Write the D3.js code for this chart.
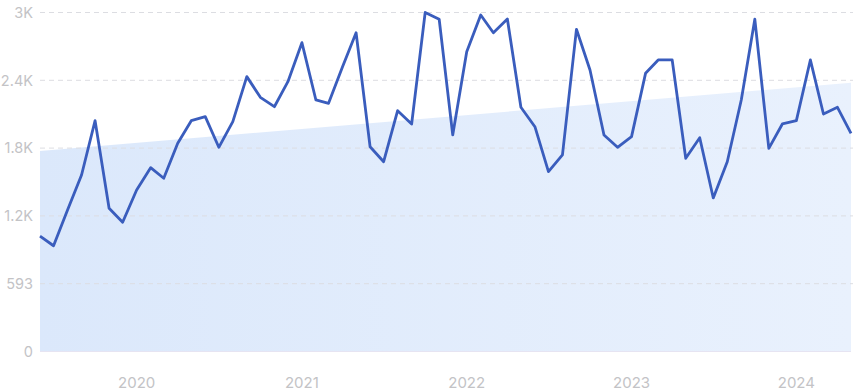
<!DOCTYPE html>
<html><head><meta charset="utf-8">
<script src="https://cdn.jsdelivr.net/npm/d3@7"></script>
<style>html,body{margin:0;padding:0;background:#fff;}svg{display:block;}</style>
</head><body>
<svg id="c" width="856" height="392"></svg>
<script>
const startMonth = "2019-06";
const values = [1010,925,1238,1544,2019,1253,1130,1413,1608,1515,1821,2019,2054,1786,2010,2404,2223,2141,2360,2701,2200,2171,2491,2788,1791,1660,2106,1990,2965,2906,1894,2622,2943,2788,2908,2136,1966,1573,1719,2818,2462,1894,1786,1879,2433,2550,2550,1690,1870,1343,1660,2200,2906,1777,1990,2019,2550,2077,2136,1908];
const trendValues = [1753, 2351];
const yTickValues = [0, 593, 1186, 1779, 2372, 2965];
const yTickLabels = ["0", "593", "1.2K", "1.8K", "2.4K", "3K"];
const xTickLabels = ["2020", "2021", "2022", "2023", "2024"];

const parse = d3.timeParse("%Y-%m");
const d0 = parse(startMonth);
const dates = values.map((v, i) => d3.timeMonth.offset(d0, i));
const data = values.map((v, i) => ({date: dates[i], value: v}));

const svg = d3.select("#c");
const x = d3.scaleTime().domain([dates[0], dates[dates.length - 1]]).range([40, 851]);
const y = d3.scaleLinear().domain([0, 2965]).range([351.5, 12.5]);

const defs = svg.append("defs");
const g = defs.append("linearGradient").attr("id", "tg").attr("x1", "0").attr("y1", "0").attr("x2", "1").attr("y2", "0");
g.append("stop").attr("offset", "0%").attr("stop-color", "#dbe8fb");
g.append("stop").attr("offset", "100%").attr("stop-color", "#e9f1fd");

// trend area
const trend = [{date: dates[0], value: trendValues[0]}, {date: dates[dates.length - 1], value: trendValues[1]}];
svg.append("path").datum(trend)
  .attr("fill", "url(#tg)")
  .attr("d", d3.area().x(d => x(d.date)).y0(y(0)).y1(d => y(d.value)));

// gridlines
svg.append("g").selectAll("line").data(yTickValues.slice(1)).join("line")
  .attr("x1", 40).attr("x2", 853)
  .attr("y1", d => y(d)).attr("y2", d => y(d))
  .attr("stroke", "#dcdde2").attr("stroke-width", 1).attr("stroke-dasharray", "5,4");

svg.append("line").attr("x1", 40).attr("x2", 851).attr("y1", y(0)).attr("y2", y(0))
  .attr("stroke", "#e6e4f2").attr("stroke-width", 1);

// y labels
svg.append("g").selectAll("text").data(yTickValues).join("text")
  .attr("x", 33).attr("y", d => y(d)).attr("dy", "0.36em")
  .attr("text-anchor", "end")
  .attr("font-family", "Inter, 'Noto Sans', sans-serif").attr("font-size", 14.5)
  .attr("fill", "#c3c3c6")
  .text((d, i) => yTickLabels[i]);

// x labels
const xTicks = xTickLabels.map(l => parse(l + "-01"));
svg.append("g").selectAll("text").data(xTicks).join("text")
  .attr("x", d => x(d)).attr("y", 388)
  .attr("text-anchor", "middle")
  .attr("font-family", "Inter, 'Noto Sans', sans-serif").attr("font-size", 15)
  .attr("fill", "#c3c3c6")
  .text((d, i) => xTickLabels[i]);

// line
svg.append("path").datum(data)
  .attr("fill", "none").attr("stroke", "#3a5dbd").attr("stroke-width", 2.8)
  .attr("stroke-linejoin", "round")
  .attr("d", d3.line().x(d => x(d.date)).y(d => y(d.value)));
</script>
</body></html>
